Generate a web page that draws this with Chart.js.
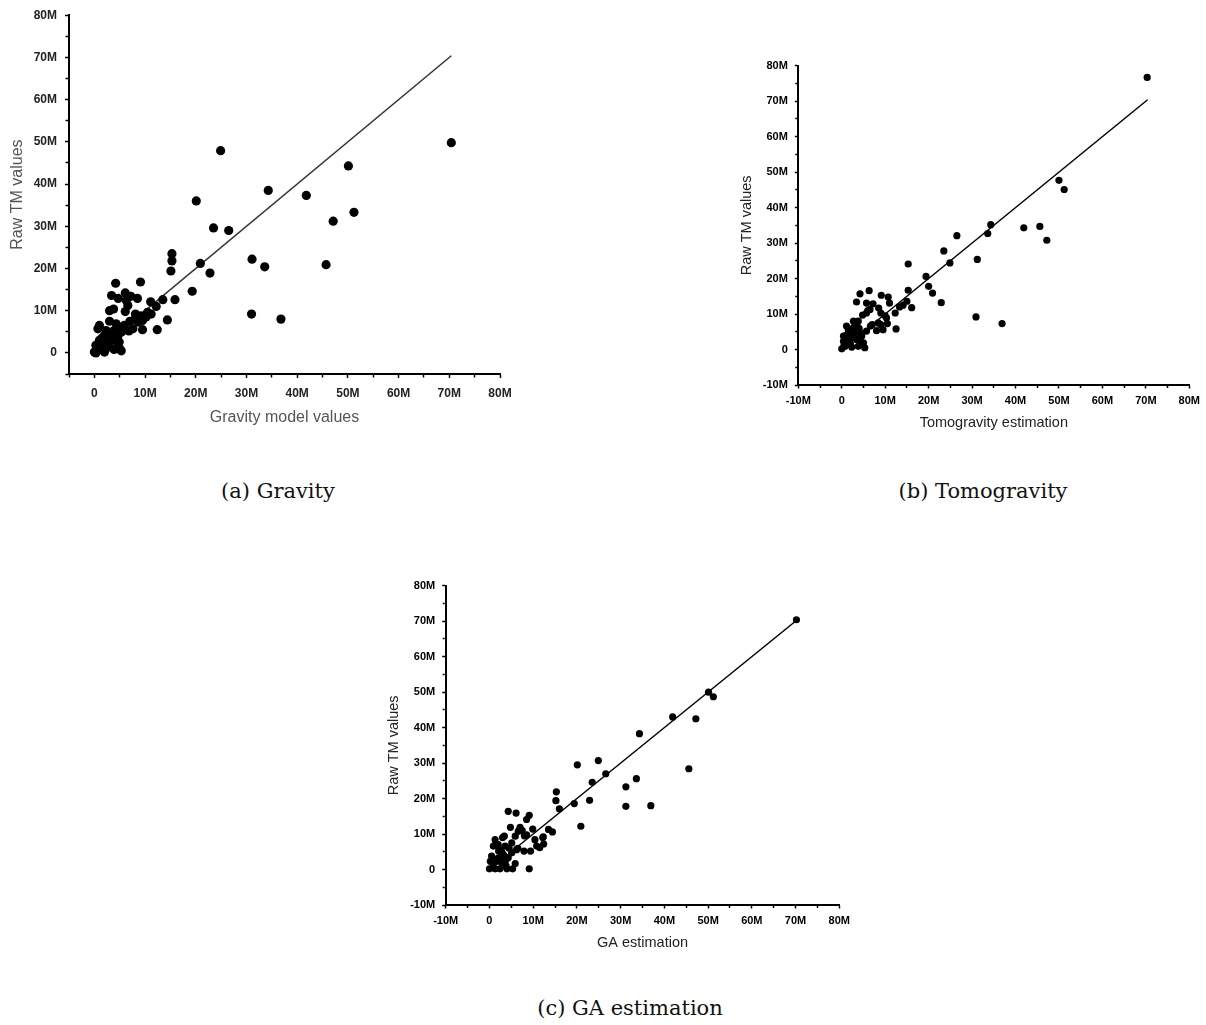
<!DOCTYPE html>
<html><head><meta charset="utf-8">
<script src="https://cdn.jsdelivr.net/npm/chart.js@4.4.1/dist/chart.umd.min.js"></script>
<style>
body{margin:0;background:#fff;width:1206px;height:1025px;position:relative;overflow:hidden}
canvas{position:absolute}
.cap{position:absolute;font-family:"DejaVu Serif",serif;font-size:21px;color:#111;transform:translate(-50%,-50%);white-space:nowrap}
</style></head><body>
<canvas id="ca" width="540" height="440" style="left:0px;top:0px;width:540px;height:440px"></canvas>
<canvas id="cb" width="506" height="390" style="left:700px;top:50px;width:506px;height:390px"></canvas>
<canvas id="cc" width="480" height="390" style="left:380px;top:570px;width:480px;height:390px"></canvas>
<div class="cap" style="left:278px;top:491px">(a) Gravity</div>
<div class="cap" style="left:983px;top:491px">(b) Tomogravity</div>
<div class="cap" style="left:630px;top:1008px">(c) GA estimation</div>
<script>
// Values in millions (M)
const gravityX = [70.4, 24.9, 50.1, 34.3, 41.8, 20.1, 51.2, 47.1, 23.5, 26.5, 15.3, 15.3, 20.9, 31.1, 33.6, 45.7, 15.1, 22.8, 19.3, 15.9, 13.5, 31.0, 36.8, 14.4, 12.4, 11.1, 12.2, 9.1, 4.2, 3.4, 6.1, 7.2, 8.5, 4.7, 6.3, 3.0, 3.8, 6.6, 6.1, 10.5, 8.1, 9.2, 9.5, 10.2, 11.2, 8.6, 7.6, 9.5, 5.9, 4.3, 3.9, 5.3, 2.3, 1.0, 0.7, 2.0, 3.3, 1.0, 0.3, 0.0, 0.7, 1.6, 3.0, 3.9, 4.9, 5.3, 4.6, 1.3, 2.3, 3.6, 4.6, 0.3, 1.0, 2.0, 7.0, 8.0, 5.5, 2.5, 1.5, 4.0, 6.8, 3.0, 2.0, 5.0];
const gravityY = [49.8, 47.9, 44.3, 38.5, 37.3, 36.0, 33.3, 31.2, 29.6, 29.0, 23.5, 21.8, 21.2, 22.2, 20.4, 20.9, 19.4, 18.9, 14.6, 12.6, 12.6, 9.2, 8.0, 7.8, 5.5, 12.1, 11.0, 16.8, 16.5, 13.6, 14.2, 13.4, 12.9, 12.9, 12.4, 10.0, 10.4, 11.2, 9.8, 9.6, 9.2, 8.8, 7.7, 8.5, 9.2, 7.3, 5.7, 5.5, 6.5, 6.9, 5.3, 4.9, 5.3, 6.5, 5.7, 4.1, 3.4, 3.0, 1.8, 0.2, 0.6, 1.0, 1.4, 0.8, 2.6, 0.5, 1.4, 2.2, 2.6, 4.5, 3.8, 0.0, 1.0, 0.2, 7.5, 8.0, 6.0, 4.0, 3.5, 3.0, 5.2, 7.5, 2.0, 1.0];

const tomoX = [70.3, 50.0, 51.2, 34.3, 33.6, 41.9, 45.6, 47.2, 26.5, 23.5, 24.9, 31.2, 15.3, 19.4, 20.0, 20.9, 22.9, 15.3, 16.1, 15.0, 14.1, 13.3, 12.3, 12.5, 30.9, 36.9, 9.1, 10.7, 11.0, 6.3, 4.2, 3.4, 5.7, 7.2, 8.5, 9.0, 6.5, 5.7, 4.8, 10.3, 10.5, 8.4, 8.0, 9.5, 6.6, 3.8, 3.0, 1.1, 2.3, 4.2, 5.7, 0.4, 1.5, 3.4, 5.0, 5.3, 3.8, 2.3, 0.0, 0.8, 1.1, 2.7, 0.4, 1.9, 4.6, 2.7, 1.0, 2.0, 3.0, 4.0, 0.5, 1.5, 2.5, 3.5, 4.5, 2.0, 7.0, 9.0, 10.0, 6.0];
const tomoY = [76.7, 47.7, 45.1, 35.2, 32.7, 34.3, 34.7, 30.8, 32.1, 27.8, 24.4, 25.4, 24.1, 20.6, 17.8, 15.9, 13.2, 16.7, 11.8, 13.6, 12.5, 12.0, 10.3, 5.8, 9.2, 7.3, 15.3, 14.8, 13.1, 16.6, 15.7, 13.4, 13.1, 12.9, 11.7, 10.3, 11.3, 10.3, 9.7, 8.9, 7.3, 7.5, 5.3, 5.6, 6.6, 8.0, 6.6, 6.6, 4.7, 4.7, 5.2, 3.8, 2.3, 2.8, 1.9, 0.5, 0.9, 0.7, 0.2, 0.9, 1.9, 3.8, 2.3, 5.6, 3.8, 8.0, 4.0, 3.0, 4.5, 6.0, 1.0, 5.5, 6.0, 7.5, 2.0, 1.5, 7.0, 7.0, 9.5, 11.0];

const gaX = [70.2, 50.1, 51.2, 41.9, 47.2, 34.3, 45.6, 24.9, 26.6, 20.1, 23.5, 33.6, 31.2, 22.9, 31.2, 36.9, 15.3, 15.2, 19.4, 16.0, 20.9, 14.4, 13.5, 12.3, 12.4, 9.1, 8.5, 4.3, 6.1, 7.0, 4.8, 6.6, 9.9, 5.9, 3.4, 8.5, 10.4, 10.8, 9.4, 7.9, 6.2, 5.1, 3.6, 1.7, 0.9, 2.1, 3.2, 4.3, 5.9, 5.3, 4.0, 2.4, 1.3, 0.0, 9.1, 0.2, 0.5, 1.7, 2.8, 0.9, 2.1, 3.6, 5.1, 2.4, 1.3, 3.0, 7.5, 4.5, 2.8, 6.5, 1.0, 3.8, 2.0, 8.0, 11.5, 12.2];
const gaY = [70.4, 50.0, 48.7, 43.0, 42.5, 38.3, 28.4, 30.7, 27.0, 29.5, 24.6, 25.6, 23.3, 19.5, 17.8, 18.0, 21.9, 19.4, 18.6, 17.1, 12.2, 10.6, 11.3, 9.2, 7.2, 15.3, 14.1, 16.4, 15.9, 11.9, 11.9, 10.8, 11.4, 9.4, 9.4, 9.8, 8.4, 6.6, 5.2, 5.2, 5.6, 4.7, 6.6, 7.0, 6.6, 5.2, 4.2, 3.3, 1.7, 0.2, 0.2, 0.2, 0.2, 0.2, 0.2, 2.3, 3.8, 2.3, 1.9, 0.9, 3.3, 2.3, 7.5, 5.6, 8.4, 9.0, 11.0, 6.0, 5.0, 6.0, 3.0, 1.0, 7.0, 9.5, 6.2, 9.0];

// identity (fit) line endpoints
const fitX = [0, 70.4];
const fitY = [0, 70.4];

const axisMax = 80;
const yTitle = 'Raw TM values';
const xTitles = ['Gravity model values', 'Tomogravity estimation', 'GA estimation'];

Chart.defaults.font.family = '"Liberation Sans", Arial, sans-serif';

const tickCb = v => (Math.round(v) % 10 === 0 ? (v === 0 ? '0' : v + 'M') : '');
const isMinor = c => c && c.tick && Math.round(c.tick.value) % 10 !== 0;

function scatterChart(id, xs, ys, o) {
  const pts = xs.map((x, i) => ({x: x, y: ys[i]}));
  const fit = fitX.map((x, i) => ({x: x, y: fitY[i]}));
  const axisW = 2;
  const commonGrid = (isX) => ({
    display: true, drawOnChartArea: false, drawTicks: true,
    tickLength: o.tl, tickColor: '#000', tickWidth: 1.5,
    tickBorderDash: c => isMinor(c) ? (isX ? [o.minor, 50] : [0, Math.max(o.tl - 1 - o.minor, 0), o.minor, 50]) : []
  });
  new Chart(document.getElementById(id), {
    type: 'scatter',
    data: {datasets: [
      {type: 'line', data: fit, borderColor: o.lineColor, borderWidth: o.lineW, pointRadius: 0, fill: false, order: 2, tension: 0},
      {type: 'scatter', data: pts, backgroundColor: '#000', borderColor: '#000', borderWidth: 0, pointRadius: o.r, pointHoverRadius: o.r, order: 1}
    ]},
    options: {
      responsive: false, animation: false, events: [],
      plugins: {legend: {display: false}, tooltip: {enabled: false}},
      layout: {padding: o.pad},
      scales: {
        x: {
          type: 'linear', min: o.xmin, max: axisMax,
          afterFit: s => { s.height = o.xh; },
          border: {display: true, color: '#000', width: axisW},
          grid: commonGrid(true),
          ticks: {stepSize: 5, autoSkip: false, maxRotation: 0, padding: o.tpx, color: o.tickColor, font: {size: o.tickSize, weight: 'bold'}, callback: tickCb},
          title: {display: true, text: o.xTitle, color: o.titleColor, font: {size: o.titleSize}, padding: {top: 0, bottom: o.xtpb}}
        },
        y: {
          type: 'linear', min: o.ymin, max: axisMax,
          afterFit: s => { s.width = o.yw; },
          border: {display: true, color: '#000', width: axisW},
          grid: commonGrid(false),
          ticks: {stepSize: 5, autoSkip: false, padding: o.tpy, color: o.tickColor, font: {size: o.tickSize, weight: 'bold'}, callback: tickCb},
          title: {display: true, text: yTitle, color: o.titleColor, font: {size: o.titleSize}, padding: {top: o.ytpt, bottom: 0}}
        }
      }
    }
  });
}

scatterChart('ca', gravityX, gravityY, {
  xmin: -5, ymin: -5, pad: {left: 0, top: 12, right: 40, bottom: 0}, yw: 69, xh: 66,
  tl: 4, minor: 2.5, tpx: 8, tpy: 8, tickSize: 12, tickColor: '#222',
  titleSize: 16, titleColor: '#555', xTitle: xTitles[0], xtpb: 12.4, ytpt: 8,
  r: 4.6, lineColor: '#333', lineW: 1.5
});
scatterChart('cb', tomoX, tomoY, {
  xmin: -10, ymin: -10, pad: {left: 0, top: 15.7, right: 14.3, bottom: 0}, yw: 98.3, xh: 55,
  tl: 3.5, minor: 2, tpx: 6, tpy: 7, tickSize: 11, tickColor: '#000',
  titleSize: 14.5, titleColor: '#222', xTitle: xTitles[1], xtpb: 8.3, ytpt: 38,
  r: 3.6, lineColor: '#000', lineW: 1.5
});
scatterChart('cc', gaX, gaY, {
  xmin: -10, ymin: -10, pad: {left: 0, top: 15.7, right: 20.7, bottom: 0}, yw: 65.7, xh: 55,
  tl: 3.5, minor: 2, tpx: 6, tpy: 7, tickSize: 11, tickColor: '#000',
  titleSize: 14.5, titleColor: '#222', xTitle: xTitles[2], xtpb: 8.3, ytpt: 5.3,
  r: 3.6, lineColor: '#000', lineW: 1.5
});
</script>
</body></html>
